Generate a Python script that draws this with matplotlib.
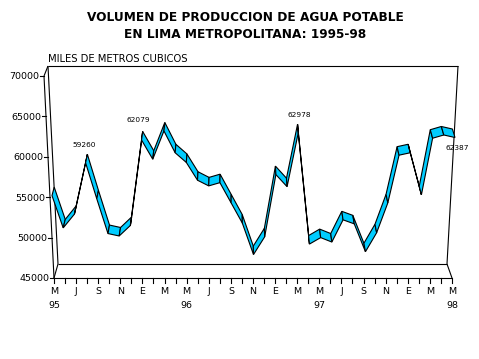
import matplotlib
matplotlib.use('Agg')
import matplotlib.pyplot as plt
from matplotlib.patches import Polygon

# ---------------- data ----------------
month_index = list(range(37))          # May 1995 .. May 1998
volume = [55200, 51200, 52900, 59260, 54800, 50500, 50200, 51500,
          62079, 59700, 63200, 60500, 59300, 57100, 56400, 56800,
          54300, 51800, 47900, 50100, 57800, 56300, 62978, 49200,
          50000, 49450, 52200, 51700, 48250, 50600, 54300, 60200,
          60500, 55300, 62300, 62700, 62387]
month_labels = ['M', 'J', 'S', 'N', 'E', 'M'] * 3 + ['M']
year_labels = ['95', '96', '97', '98']
annot_idx = [3, 8, 22, 36]
annot_text = ['59260', '62079', '62978', '62387']
y_ticks = [45000, 50000, 55000, 60000, 65000, 70000]
title_lines = ['VOLUMEN DE PRODUCCION DE AGUA POTABLE',
               'EN LIMA METROPOLITANA: 1995-98']
unit_label = 'MILES DE METROS CUBICOS'

# ---------------- layout (pixels, top-left origin) ----------------
W, H, DPI = 479, 359, 100
X0, X1 = 52.0, 455.0          # first / last month in data plane
YB, YT = 278.0, 76.0          # pixel rows of VMIN / VMAX
VMIN, VMAX = 45000, 70000
RIBBON_DY_PX = 8.5
RIBBON_DX_LEFT_PX, RIBBON_DX_RIGHT_PX = 2.2, -2.6   # perspective depth
CYAN = '#00CCFF'
LW = 0.8
plt.rcParams['font.family'] = ['DejaVu Sans']

fig = plt.figure(figsize=(W / DPI, H / DPI), dpi=DPI)
fig.patch.set_facecolor('white')

# overlay in pixel coordinates for the 3-D box decoration
ov = fig.add_axes([0, 0, 1, 1])
ov.set_xlim(0, W)
ov.set_ylim(H, 0)
ov.axis('off')
ov.set_zorder(0)

# data axes
ax = fig.add_axes([X0 / W, (H - YB) / H, (X1 - X0) / W, (YB - YT) / H])
ax.set_xlim(0, 36)
ax.set_ylim(VMIN, VMAX)
ax.axis('off')
ax.set_zorder(1)


def val_px(v):
    return YB - (v - VMIN) * (YB - YT) / (VMAX - VMIN)


# ---- box lines ----
box = [
    ((48, 66), (458, 66)),     # back top
    ((48, 66), (58, 264)),     # back left
    ((458, 66), (447, 264)),   # back right
    ((58, 264), (447, 264)),   # back floor
    ((54, 278), (452, 278)),   # front floor
    ((44, 76), (54, 278)),     # front y axis
    ((44, 76), (48, 66)),
    ((54, 278), (58, 264)),
    ((452, 278), (447, 264)),
]
for (xa, ya), (xb, yb) in box:
    ov.plot([xa, xb], [ya, yb], color='black', lw=LW, solid_capstyle='butt')


def axis_x(ypx):
    return 44 + (ypx - 76) / 202.0 * 10


# y ticks
for v in y_ticks:
    yp = val_px(v)
    xa = axis_x(yp)
    ov.plot([xa - 4, xa], [yp, yp], color='black', lw=LW)
    ov.text(xa - 4.5, yp + 3.4, f'{v}', ha='right', va='baseline', fontsize=6.8)

# x ticks (front floor)
FX0, FX1 = 54.0, 452.0
for i in month_index:
    xp = FX0 + (FX1 - FX0) * i / 36
    ov.plot([xp, xp], [278, 282.5], color='black', lw=LW)
for k, lab in enumerate(month_labels):
    xp = FX0 + (FX1 - FX0) * (2 * k) / 36
    ov.text(xp, 294.5, lab, ha='center', va='baseline', fontsize=6.8)
for k, lab in enumerate(year_labels):
    xp = FX0 + (FX1 - FX0) * (12 * k) / 36
    ov.text(xp, 308.5, lab, ha='center', va='baseline', fontsize=6.8)

# titles
ov.text(245, 21, title_lines[0], ha='center', va='baseline', fontsize=8.7,
        fontweight='bold')
ov.text(245, 37.5, title_lines[1], ha='center', va='baseline', fontsize=8.7,
        fontweight='bold')
ov.text(48, 61.5, unit_label, ha='left', va='baseline', fontsize=7.2)

# ---- ribbon ----
dy = RIBBON_DY_PX * (VMAX - VMIN) / (YB - YT)
px_to_x = 36.0 / (X1 - X0)


def depth_dx(i):
    f = i / 36.0
    return (RIBBON_DX_LEFT_PX + (RIBBON_DX_RIGHT_PX - RIBBON_DX_LEFT_PX) * f) * px_to_x


for i in range(len(volume) - 1):
    x0, x1 = month_index[i], month_index[i + 1]
    v0, v1 = volume[i], volume[i + 1]
    quad = [(x0, v0), (x1, v1),
            (x1 + depth_dx(x1), v1 + dy), (x0 + depth_dx(x0), v0 + dy)]
    ax.add_patch(Polygon(quad, closed=True, facecolor=CYAN, edgecolor='black',
                         lw=LW, joinstyle='miter', clip_on=False))

# ---- value labels ----
label_offsets_px = [(-1, 18), (-3, 20), (1.5, 17.5), (2, -10.5)]
for idx, txt, (ox, oy) in zip(annot_idx, annot_text, label_offsets_px):
    ax.annotate(txt, xy=(month_index[idx], volume[idx]),
                xytext=(ox * 0.72, oy * 0.72), textcoords='offset points',
                ha='center', va='center', fontsize=5.3, annotation_clip=False)

fig.savefig('out.png', dpi=DPI)
